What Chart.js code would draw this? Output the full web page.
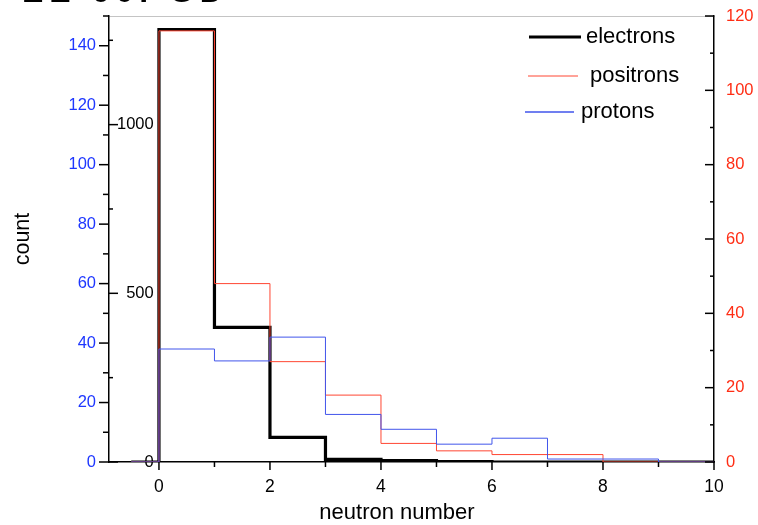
<!DOCTYPE html>
<html><head><meta charset="utf-8">
<script src="https://cdn.jsdelivr.net/npm/chart.js@4.4.1/dist/chart.umd.min.js"></script>
<style>
html,body{margin:0;padding:0;background:#fff;overflow:hidden}
#wrap{position:relative;width:758px;height:525px;background:#fff}
#c{position:absolute;left:0;top:0}
.t{position:absolute;font-family:"Liberation Sans",Arial,sans-serif;color:#000;white-space:nowrap}
#title{left:22px;top:-29px;font-size:32px;font-weight:bold;line-height:40px;letter-spacing:6px}
#xtitle{left:397px;top:500px;font-size:22px;line-height:24px;transform:translateX(-50%)}
</style></head><body>
<div id="wrap"><canvas id="c" width="758" height="525"></canvas>
<div class="t" id="title">EE 60. GD</div>
<div class="t" id="xtitle">neutron number</div></div>
<script>
// ---- data ----
const seriesNames = ['electrons', 'positrons', 'protons'];
const binStarts = [-0.5, 0, 1, 2, 3, 4, 5, 6, 7, 8, 9];
const histEnd = 10;
const electrons = [0, 1282, 399, 73, 8, 4, 1, 0, 0, 0, 0];
const positrons = [0, 116, 48, 27, 18, 5, 3, 2, 2, 0, 0];
const protons   = [0, 38, 34, 42, 16, 11, 6, 8, 1, 1, 0];
const xTicks = [0, 1, 2, 3, 4, 5, 6, 7, 8, 9, 10];
const xLabels = [0, 2, 4, 6, 8, 10];
const protonTicks = [0, 20, 40, 60, 80, 100, 120, 140];
const protonMinor = [10, 30, 50, 70, 90, 110, 130, 150];
const electronTicks = [0, 500, 1000];
const electronMinor = [250, 750, 1250];
const positronTicks = [0, 20, 40, 60, 80, 100, 120];
const positronMinor = [10, 30, 50, 70, 90, 110];

// ---- styling ----
const FONT = '"Liberation Sans", Arial, sans-serif';
Chart.defaults.font.family = FONT;
const BLUE_TXT = 'rgb(30,55,255)';
const RED_TXT = 'rgb(255,45,20)';
const tickFont = { size: 16.5 };

function steps(vals) {
  const pts = binStarts.map((x, i) => ({ x: x, y: vals[i] }));
  pts.push({ x: histEnd, y: vals[vals.length - 1] });
  return pts;
}
function fixed(vals) { return s => { s.ticks = vals.map(v => ({ value: v })); }; }
const plain = v => String(v);
function fitY(w) { return s => { s.width = w; s.paddingTop = 0; s.paddingBottom = 0; }; }
function fitX(h) { return s => { s.height = h; s.paddingLeft = 0; s.paddingRight = 0; }; }

const tickMarks = {
  id: 'tickMarks',
  afterDraw(chart, args, opts) {
    const ctx = chart.ctx, ca = chart.chartArea;
    ctx.save();
    ctx.strokeStyle = '#000';
    ctx.lineWidth = 1.5;
    for (const spec of opts.specs) {
      const s = chart.scales[spec.scale];
      for (const v of spec.values) {
        const p = s.getPixelForValue(v);
        ctx.beginPath();
        if (s.isHorizontal()) {
          ctx.moveTo(p, ca.bottom); ctx.lineTo(p, ca.bottom + spec.len);
        } else {
          const x0 = spec.side === 'left' ? ca.left : ca.right;
          ctx.moveTo(x0, p); ctx.lineTo(x0 + spec.len, p);
        }
        ctx.stroke();
      }
    }
    ctx.restore();
  }
};

const insideLegend = {
  id: 'insideLegend',
  afterDraw(chart, args, opts) {
    const ctx = chart.ctx;
    ctx.save();
    ctx.font = opts.fontSize + 'px ' + FONT;
    ctx.textBaseline = 'middle';
    ctx.textAlign = 'left';
    opts.items.forEach((it, i) => {
      const ds = chart.data.datasets[i];
      ctx.strokeStyle = ds.borderColor;
      ctx.lineWidth = it.lw;
      ctx.beginPath(); ctx.moveTo(it.x1, it.y); ctx.lineTo(it.x2, it.y); ctx.stroke();
      ctx.fillStyle = '#000';
      ctx.fillText(ds.label, it.tx, it.y);
    });
    ctx.restore();
  }
};

new Chart(document.getElementById('c'), {
  type: 'line',
  data: {
    datasets: [
      { label: seriesNames[0], data: steps(electrons), yAxisID: 'yE', borderColor: '#000', borderWidth: 3.2, order: 3 },
      { label: seriesNames[1], data: steps(positrons), yAxisID: 'yR', borderColor: 'rgb(255,70,50)', borderWidth: 1, order: 2 },
      { label: seriesNames[2], data: steps(protons), yAxisID: 'yB', borderColor: 'rgb(65,85,235)', borderWidth: 1, order: 1 }
    ]
  },
  options: {
    responsive: false,
    devicePixelRatio: 1,
    animation: false,
    layout: { padding: 0, autoPadding: false },
    elements: { line: { stepped: 'before', fill: false, tension: 0, borderJoinStyle: 'miter' }, point: { radius: 0 } },
    plugins: {
      legend: { display: false },
      tooltip: { enabled: false },
      tickMarks: { specs: [
        { scale: 'x', values: xLabels, len: 8 },
        { scale: 'x', values: xTicks.filter(v => !xLabels.includes(v)), len: 5 },
        { scale: 'yB', values: protonTicks, side: 'left', len: -10 },
        { scale: 'yB', values: protonMinor, side: 'left', len: -6 },
        { scale: 'yE', values: electronTicks, side: 'left', len: 9 },
        { scale: 'yE', values: electronMinor, side: 'left', len: 4 },
        { scale: 'yR', values: positronTicks, side: 'right', len: -9 },
        { scale: 'yR', values: positronMinor, side: 'right', len: -4 }
      ] },
      insideLegend: { fontSize: 22, items: [
        { x1: 529, x2: 581, y: 37, tx: 586, lw: 3.2 },
        { x1: 528, x2: 578, y: 76, tx: 590, lw: 1 },
        { x1: 525, x2: 574, y: 112, tx: 581, lw: 1.5 }
      ] }
    },
    scales: {
      x: {
        type: 'linear', position: 'bottom', min: -0.9, max: 10,
        afterBuildTicks: fixed(xTicks),
        ticks: { callback: v => xLabels.includes(v) ? String(v) : '', color: '#000', font: { size: 17.5 }, padding: 15, autoSkip: false, maxRotation: 0 },
        grid: { display: false, drawTicks: false },
        border: { display: true, color: '#000', width: 1.5 },
        afterFit: fitX(63)
      },
      xTop: {
        type: 'linear', position: 'top', min: -0.9, max: 10,
        ticks: { display: false },
        grid: { display: false, drawTicks: false },
        border: { display: true, color: '#c4c4c4', width: 1 },
        afterFit: fitX(16)
      },
      yB: {
        type: 'linear', position: 'left', weight: 1, min: 0, max: 150,
        afterBuildTicks: fixed(protonTicks),
        ticks: { callback: plain, color: BLUE_TXT, font: tickFont, padding: 13, autoSkip: false },
        grid: { display: false, drawTicks: false },
        border: { display: true, color: '#000', width: 1.5 },
        title: { display: true, text: 'count', color: '#000', font: { size: 21.5 }, padding: { top: 10, bottom: 0 } },
        afterFit: fitY(109)
      },
      yE: {
        type: 'linear', position: 'left', weight: 0, min: 0, max: 1322,
        afterBuildTicks: fixed(electronTicks),
        ticks: { callback: plain, mirror: true, crossAlign: 'far', color: '#000', font: tickFont, padding: 8, autoSkip: false },
        grid: { display: false, drawTicks: false },
        border: { display: false },
        afterFit: fitY(0)
      },
      yR: {
        type: 'linear', position: 'right', min: 0, max: 120,
        afterBuildTicks: fixed(positronTicks),
        ticks: { callback: plain, color: RED_TXT, font: tickFont, padding: 12, autoSkip: false },
        grid: { display: false, drawTicks: false },
        border: { display: true, color: '#000', width: 1.5 },
        afterFit: fitY(44)
      }
    }
  },
  plugins: [tickMarks, insideLegend]
});
</script>
</body></html>
